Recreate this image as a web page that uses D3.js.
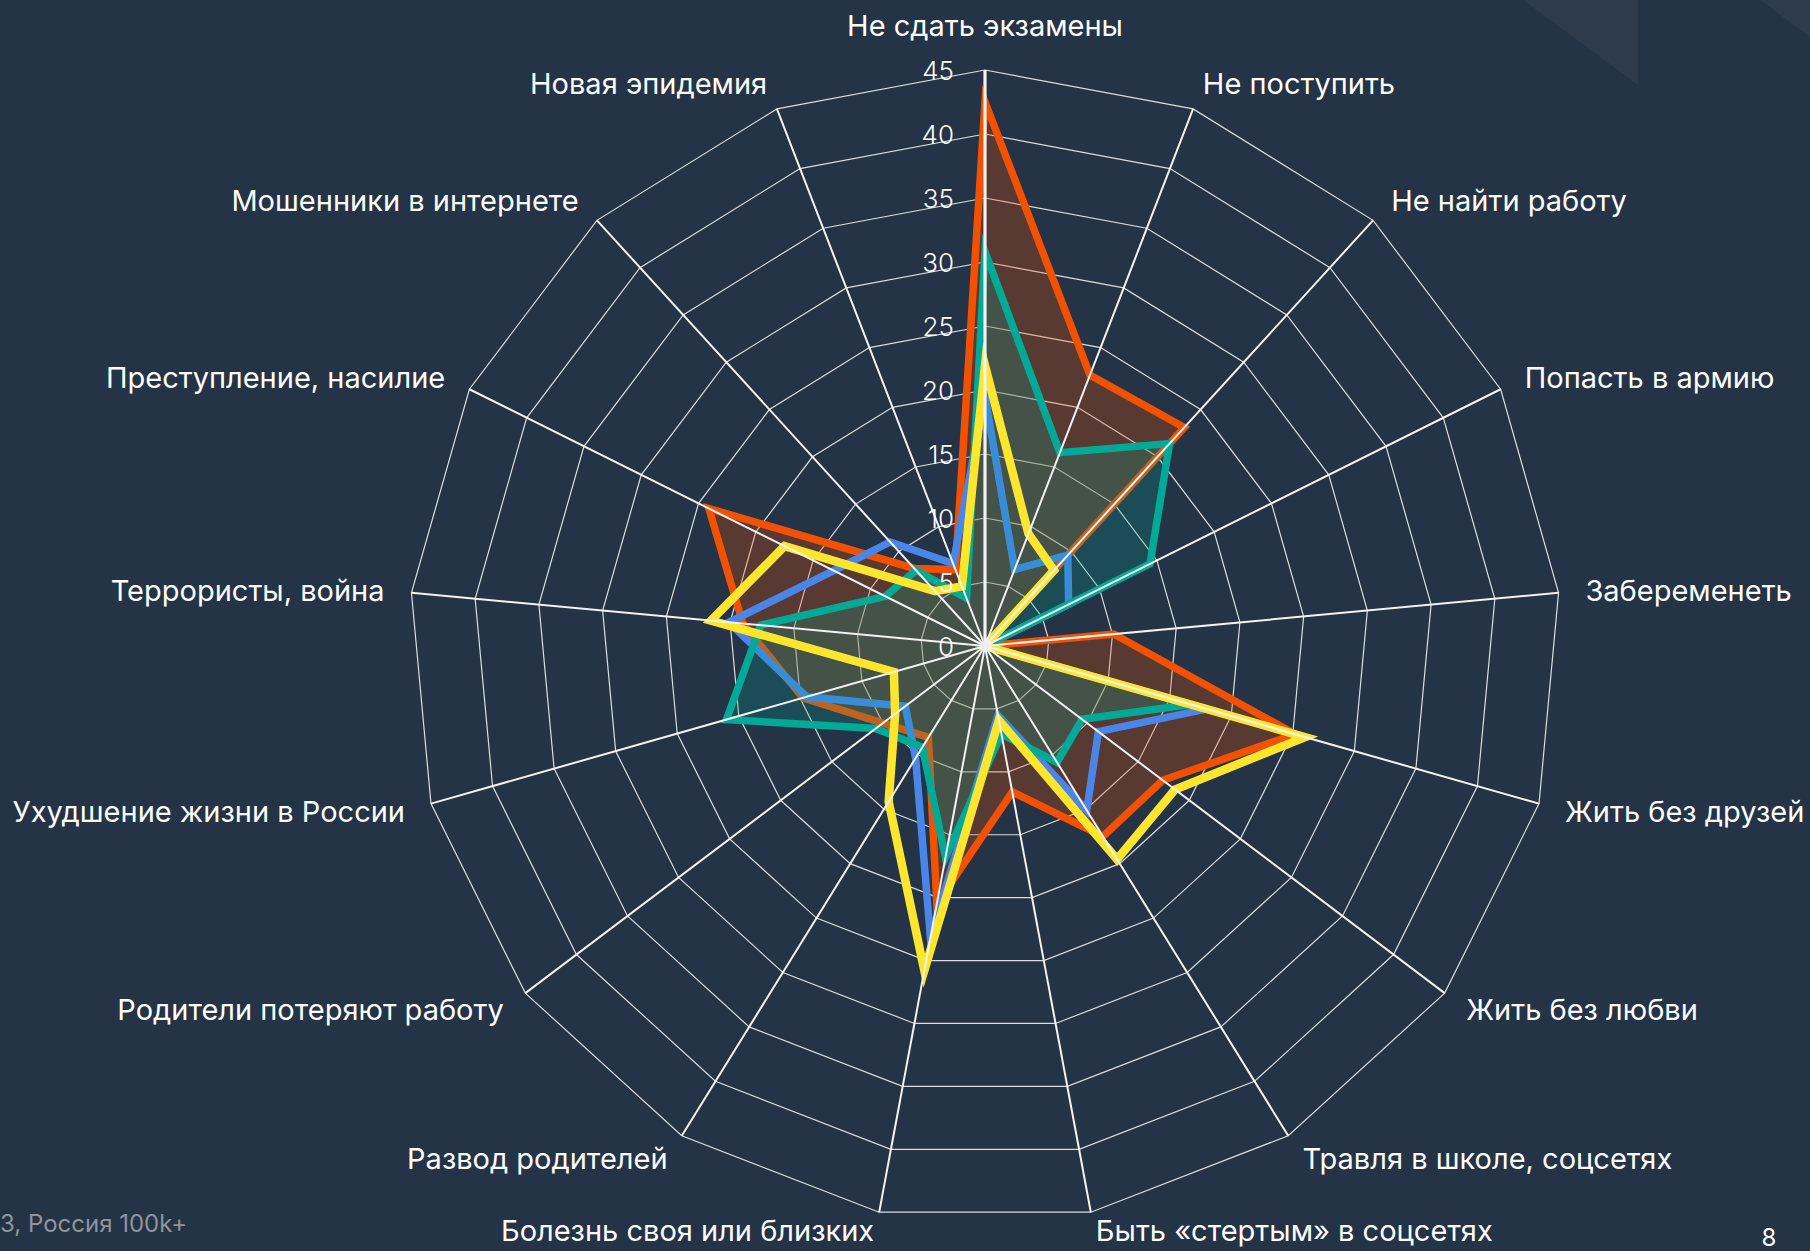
<!DOCTYPE html>
<html><head><meta charset="utf-8">
<script src="https://cdn.jsdelivr.net/npm/d3@7"></script>
<style>html,body{margin:0;padding:0;background:#243345;overflow:hidden}</style>
</head><body>
<svg id="chart" width="1810" height="1251"></svg>
<script>
// ---------- data ----------
const categories = [
  "Не сдать экзамены", "Не поступить", "Не найти работу", "Попасть в армию",
  "Забеременеть", "Жить без друзей", "Жить без любви", "Травля в школе, соцсетях",
  "Быть «стертым» в соцсетях", "Болезнь своя или близких", "Развод родителей",
  "Родители потеряют работу", "Ухудшение жизни в России", "Террористы, война",
  "Преступление, насилие", "Мошенники в интернете", "Новая эпидемия"
];
const tickValues = [0, 5, 10, 15, 20, 25, 30, 35, 40, 45];
const valuesOrange = [42.5, 22.7, 23.1, 0, 10.1, 25.2, 17.4, 17.5, 11.6, 20.5, 8.4, 10.0, 14.8, 19.0, 24.1, 8.2, 6.4];
const valuesBlue   = [19.5, 6.4, 9.6, 7.3, 0, 18.0, 11.1, 15.1, 5.5, 23.2, 10.3, 7.8, 14.5, 20.1, 13.2, 11.0, 6.9];
const valuesTeal   = [30.8, 16.2, 21.4, 14.4, 0, 16.7, 9.5, 10.7, 7.0, 16.8, 9.3, 10.7, 21.0, 17.6, 8.7, 8.0, 4.0];
const valuesYellow = [21.9, 9.4, 8.0, 0, 0, 26.0, 18.6, 19.6, 5.9, 25.8, 14.3, 8.8, 7.4, 21.5, 17.5, 5.8, 5.0];
const footerText = "3, Россия 100k+";
const pageNumber = "8";

// ---------- layout ----------
const W = 1810, H = 1251;
const cx = 985, cy = 646, R = 576;
const FONT = "Inter, 'Open Sans', sans-serif";

const svg = d3.select("#chart");
svg.append("rect").attr("width", W).attr("height", H).attr("fill", "#243345");

// decorative shapes top right
svg.append("polygon").attr("points", "1523,0 1638,0 1638,85").attr("fill", "rgba(255,255,255,0.045)");
svg.append("polygon").attr("points", "1760,0 1810,0 1810,37").attr("fill", "rgba(255,255,255,0.045)");

const r = d3.scaleLinear().domain([0, 45]).range([0, R]);
const angle = d3.scaleLinear().domain([0, categories.length]).range([0, 2 * Math.PI]);
const px = (i, v) => cx + r(v) * Math.sin(angle(i));
const py = (i, v) => cy - r(v) * Math.cos(angle(i));

const g = svg.append("g");

// rings
const ringLine = d3.line().x(d => d[0]).y(d => d[1]).curve(d3.curveLinearClosed);
tickValues.filter(t => t > 0).forEach(t => {
  g.append("path")
    .attr("d", ringLine(categories.map((c, i) => [px(i, t), py(i, t)])))
    .attr("fill", "none").attr("stroke", "#eef0f2").attr("stroke-width", 1.2).attr("stroke-opacity", 0.9);
});

// series
const radial = d3.lineRadial().angle((d, i) => angle(i)).radius(d => r(d)).curve(d3.curveLinearClosed);
const sg = g.append("g").attr("transform", `translate(${cx},${cy})`);
function drawSeries(vals, color, fillOpacity, width) {
  sg.append("path").attr("d", radial(vals))
    .attr("fill", fillOpacity > 0 ? color : "none").attr("fill-opacity", fillOpacity)
    .attr("stroke", "none");
  sg.append("path").attr("d", radial(vals))
    .attr("fill", "none").attr("stroke", color).attr("stroke-width", width)
    .attr("stroke-linejoin", "miter").attr("stroke-miterlimit", 6);
}
drawSeries(valuesOrange, "#f25100", 0.25, 7.5);
drawSeries(valuesBlue, "#4a86e8", 0, 7.5);
// teal fill covers orange & blue strokes
sg.append("path").attr("d", radial(valuesTeal)).attr("fill", "#00aa96").attr("fill-opacity", 0.22);
sg.append("path").attr("d", radial(valuesTeal)).attr("fill", "none").attr("stroke", "#00aa96")
  .attr("stroke-width", 7.5).attr("stroke-linejoin", "miter").attr("stroke-miterlimit", 6);
drawSeries(valuesYellow, "#ffe62e", 0, 8.5);

// spokes
categories.forEach((c, i) => {
  g.append("line")
    .attr("x1", cx).attr("y1", cy)
    .attr("x2", px(i, 45)).attr("y2", py(i, 45))
    .attr("stroke", "#f2f2f2").attr("stroke-width", i === 0 ? 3.2 : 2);
});
g.append("circle").attr("cx", cx).attr("cy", cy).attr("r", 4).attr("fill", "#eeeeee");

// tick labels
g.selectAll("text.tick").data(tickValues).join("text")
  .attr("class", "tick")
  .attr("x", cx - 31).attr("y", d => cy - r(d))
  .attr("text-anchor", "end").attr("dominant-baseline", "central")
  .attr("font-family", FONT).attr("font-size", 26).attr("font-weight", 300)
  .attr("fill", "#ffffff").text(d => d);

// category labels
const LR = R + 27;
categories.forEach((c, i) => {
  const a = angle(i);
  const s = Math.sin(a), co = Math.cos(a);
  let anchor = Math.abs(s) < 0.01 ? "middle" : (s > 0 ? "start" : "end");
  let x = cx + LR * s, y = cy - LR * co;
  if (i === 0) y -= 18;
  if (co < -0.95) y -= 8;
  g.append("text").attr("x", x).attr("y", y)
    .attr("text-anchor", anchor).attr("dominant-baseline", "central")
    .attr("font-family", FONT).attr("font-size", 29).attr("fill", "#ffffff")
    .text(c);
});

// footer
svg.append("text").attr("x", 0).attr("y", 1223).attr("dominant-baseline", "central")
  .attr("font-family", FONT).attr("font-size", 24).attr("fill", "#8f959c").text(footerText);
svg.append("text").attr("x", 1769).attr("y", 1237).attr("text-anchor", "middle").attr("dominant-baseline", "central")
  .attr("font-family", FONT).attr("font-size", 24).attr("fill", "#ffffff").text(pageNumber);
</script>
</body></html>
